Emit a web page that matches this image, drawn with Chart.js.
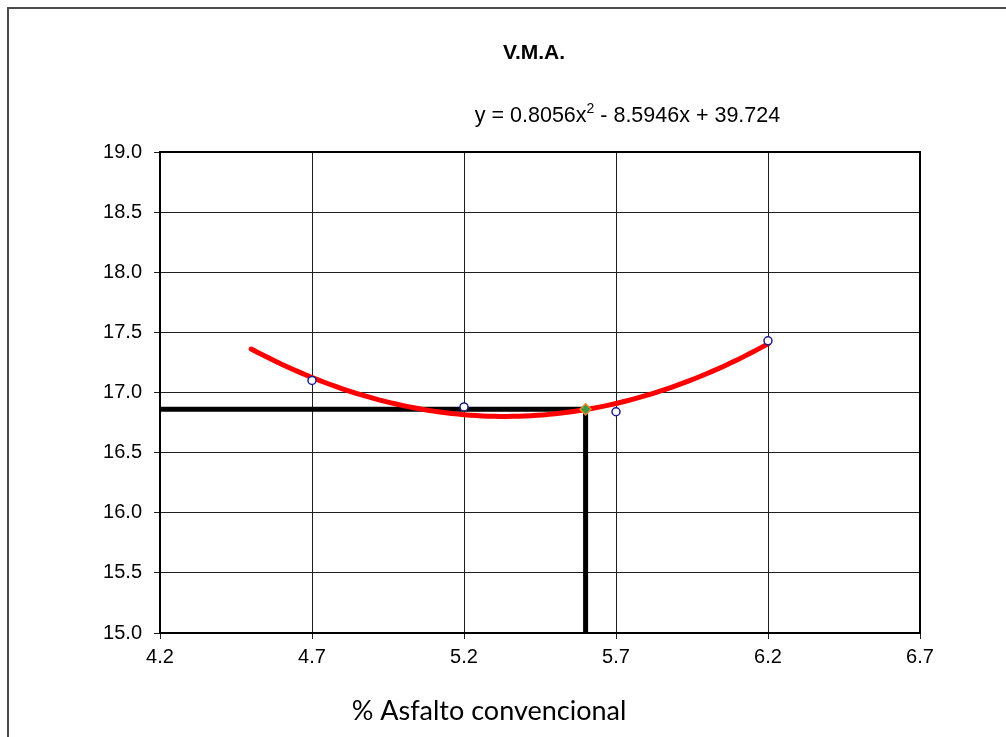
<!DOCTYPE html>
<html>
<head>
<meta charset="utf-8">
<script src="https://cdn.jsdelivr.net/npm/chart.js@4/dist/chart.umd.min.js"></script>
<style>
  html, body { margin: 0; padding: 0; background: #ffffff; }
  #wrap { width: 1006px; height: 737px; position: relative; }
</style>
</head>
<body>
<div id="wrap"><canvas id="vma"></canvas></div>
<script>
// Laboratory results: V.M.A. (%) against asphalt content (%)
const asphaltPct = [4.7, 5.2, 5.7, 6.2];
const vmaValues  = [17.10, 16.88, 16.84, 17.43];

// Second order trend line: y = a x^2 + b x + c
const fitCoef  = [0.8056, -8.5946, 39.724];
const fitRange = [4.5, 6.2];

// Design asphalt content and the V.M.A. read at it
const designPct = 5.6;
const designVma = 16.86;

// Axis ticks
const xTicks = [4.2, 4.7, 5.2, 5.7, 6.2, 6.7];
const yTicks = [15.0, 15.5, 16.0, 16.5, 17.0, 17.5, 18.0, 18.5, 19.0];

const chartTitle = 'V.M.A.';
const xAxisTitle = '% Asfalto convencional';

function fitValue(x) {
  return fitCoef[0] * x * x + fitCoef[1] * x + fitCoef[2];
}

// Trend line traced from the fitted polynomial
const trendPoints = [];
for (let i = 0; i <= 85; i++) {
  const x = fitRange[0] + (fitRange[1] - fitRange[0]) * i / 85;
  trendPoints.push({ x: x, y: fitValue(x) });
}

// Reading lines: across from the y axis, then down to the x axis
const readingLines = [
  { x: xTicks[0], y: designVma },
  { x: designPct, y: designVma },
  { x: designPct, y: yTicks[0] }
];

const samplePoints = asphaltPct.map((x, i) => ({ x: x, y: vmaValues[i] }));

const decorations = {
  id: 'decorations',
  beforeDraw(chart) {
    const ctx = chart.ctx;
    ctx.save();
    ctx.fillStyle = '#ffffff';
    ctx.fillRect(0, 0, chart.width, chart.height);
    // outer frame (top and left edges)
    ctx.strokeStyle = '#4a4a4a';
    ctx.lineWidth = 2;
    ctx.beginPath();
    ctx.moveTo(chart.width, 8);
    ctx.lineTo(8, 8);
    ctx.lineTo(8, chart.height);
    ctx.stroke();
    ctx.restore();
  },
  beforeDatasetsDraw(chart) {
    const ctx = chart.ctx;
    const a = chart.chartArea;
    ctx.save();
    ctx.strokeStyle = '#000000';
    ctx.lineWidth = 2;
    ctx.strokeRect(a.left, a.top, a.right - a.left, a.bottom - a.top);
    ctx.restore();
  },
  afterDraw(chart) {
    const ctx = chart.ctx;
    ctx.save();
    ctx.fillStyle = '#000000';
    ctx.textBaseline = 'alphabetic';

    // title
    ctx.font = 'bold 21px "Liberation Sans", Arial, sans-serif';
    ctx.textAlign = 'center';
    ctx.fillText(chartTitle, 534, 59);

    // trend line equation with superscript
    const part1 = 'y = ' + fitCoef[0] + 'x';
    const sup = '2';
    const part2 = ' - ' + Math.abs(fitCoef[1]) + 'x + ' + fitCoef[2];
    const mainFont = '21.5px "Liberation Sans", Arial, sans-serif';
    const supFont = '14px "Liberation Sans", Arial, sans-serif';
    ctx.textAlign = 'left';
    ctx.font = mainFont;
    const w1 = ctx.measureText(part1).width;
    const w3 = ctx.measureText(part2).width;
    ctx.font = supFont;
    const w2 = ctx.measureText(sup).width;
    const total = w1 + w2 + w3;
    const x0 = 627.5 - total / 2;
    ctx.font = mainFont;
    ctx.fillText(part1, x0, 122);
    ctx.font = supFont;
    ctx.fillText(sup, x0 + w1, 113);
    ctx.font = mainFont;
    ctx.fillText(part2, x0 + w1 + w2, 122);

    // x axis title
    ctx.font = '27px Lato, "Open Sans", sans-serif';
    ctx.textAlign = 'center';
    ctx.fillText(xAxisTitle, 489, 720);
    ctx.restore();
  }
};

new Chart(document.getElementById('vma'), {
  type: 'scatter',
  data: {
    datasets: [
      {
        label: 'Muestras',
        data: samplePoints,
        showLine: false,
        pointStyle: 'circle',
        pointRadius: 4,
        pointBorderWidth: 1.5,
        pointBorderColor: '#1c1c8e',
        pointBackgroundColor: '#ffffff',
        order: 1
      },
      {
        label: 'Óptimo',
        data: [{ x: designPct, y: designVma }],
        showLine: false,
        pointStyle: 'rectRot',
        pointRadius: 5.5,
        pointBorderWidth: 1.5,
        pointBorderColor: '#e08a2a',
        pointBackgroundColor: '#3f9a44',
        order: 2
      },
      {
        label: 'Tendencia',
        data: trendPoints,
        showLine: true,
        borderColor: '#ff0000',
        borderWidth: 5,
        borderCapStyle: 'round',
        borderJoinStyle: 'round',
        pointRadius: 0,
        tension: 0,
        order: 3
      },
      {
        label: 'Lectura',
        data: readingLines,
        showLine: true,
        borderColor: '#000000',
        borderWidth: 5,
        borderCapStyle: 'butt',
        borderJoinStyle: 'miter',
        pointRadius: 0,
        tension: 0,
        order: 4
      }
    ]
  },
  options: {
    responsive: true,
    maintainAspectRatio: false,
    animation: false,
    events: [],
    layout: { padding: { top: 152, right: 86, left: 0, bottom: 0 } },
    plugins: {
      legend: { display: false },
      tooltip: { enabled: false },
      title: { display: false }
    },
    scales: {
      x: {
        type: 'linear',
        min: xTicks[0],
        max: xTicks[xTicks.length - 1],
        afterBuildTicks(scale) { scale.ticks = xTicks.map(v => ({ value: v })); },
        afterFit(scale) { scale.height = 104; },
        grid: { color: '#1e1e1e', lineWidth: 1, tickLength: 6, drawTicks: true },
        border: { display: false },
        ticks: {
          padding: 6,
          color: '#000000',
          font: { family: '"Liberation Sans", Arial, sans-serif', size: 20 },
          callback: v => Number(v).toFixed(1)
        }
      },
      y: {
        type: 'linear',
        min: yTicks[0],
        max: yTicks[yTicks.length - 1],
        afterBuildTicks(scale) { scale.ticks = yTicks.map(v => ({ value: v })); },
        afterFit(scale) { scale.width = 160; },
        grid: { color: '#1e1e1e', lineWidth: 1, tickLength: 6, drawTicks: true },
        border: { display: false },
        ticks: {
          padding: 12,
          color: '#000000',
          font: { family: '"Liberation Sans", Arial, sans-serif', size: 20 },
          callback: v => Number(v).toFixed(1)
        }
      }
    }
  },
  plugins: [decorations]
});
</script>
</body>
</html>
